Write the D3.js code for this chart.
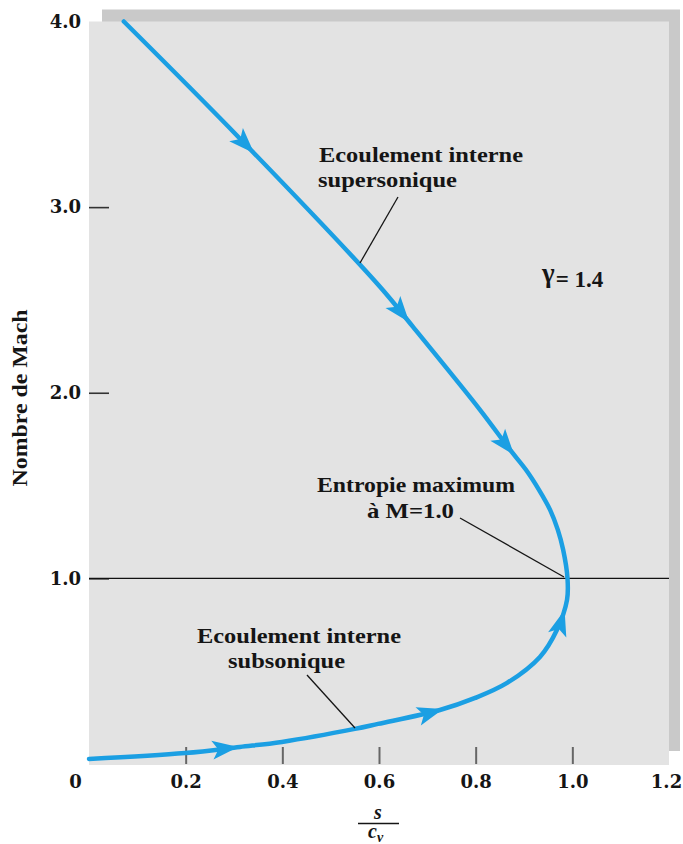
<!DOCTYPE html>
<html>
<head>
<meta charset="utf-8">
<script src="https://cdn.jsdelivr.net/npm/d3@7"></script>
<style>
  body { margin: 0; background: #fff; }
  svg { display: block; }
</style>
</head>
<body>
<svg id="chart" width="683" height="844"></svg>
<script>
// Fanno line (gamma = 1.4): entropy s/cv against Mach number
const subsonicMach    = [0.027, 0.059, 0.092, 0.119, 0.189, 0.216, 0.291, 0.356, 0.437, 0.577, 0.722, 0.884, 1.0];
const subsonicEntropy = [0.0,   0.199, 0.312, 0.399, 0.550, 0.598, 0.726, 0.799, 0.865, 0.933, 0.968, 0.989, 0.99];
const supersonicMach    = [4.0,   3.37,  2.571, 2.356, 1.908, 1.693, 1.585, 1.477, 1.369, 1.261, 1.154];
const supersonicEntropy = [0.072, 0.312, 0.602, 0.670, 0.809, 0.871, 0.904, 0.931, 0.954, 0.970, 0.981];
// flow-direction arrows (Mach number at each arrow tip)
const arrowMach = [3.29, 2.38, 1.665, 0.83, 0.296, 0.091];
const xTicks = [0, 0.2, 0.4, 0.6, 0.8, 1.0, 1.2];
const yTicks = [1.0, 2.0, 3.0, 4.0];
const sonicMach = 1.0;

const svg = d3.select('#chart');
const x = d3.scaleLinear().domain([0, 1.2]).range([89, 669]);
const y = d3.scaleLinear().domain([0, 4]).range([764, 21.5]);

const ink = '#151515';
const blue = '#1b9fe3';
const labelFont = 'DejaVu Serif';
const noteFont = 'Liberation Serif';

// drop shadow and plotting panel
svg.append('rect')
  .attr('x', x(0) + 13).attr('y', y(4) - 12)
  .attr('width', x(1.2) - x(0) - 2).attr('height', y(0) - y(4) - 1)
  .attr('fill', '#c9c9c9');
svg.append('rect')
  .attr('x', x(0)).attr('y', y(4))
  .attr('width', x(1.2) - x(0)).attr('height', y(0) - y(4) + 1)
  .attr('fill', '#e3e3e3');

// x axis: ticks point up into the panel
const gx = svg.append('g')
  .attr('transform', `translate(0,${y(0)})`)
  .call(d3.axisBottom(x).tickValues(xTicks).tickSize(-17).tickPadding(11)
    .tickFormat(d => d === 0 ? '0' : d3.format('.1f')(d)));
gx.select('.domain').remove();
gx.attr('font-family', labelFont).attr('font-size', 18).attr('font-weight', 'bold');
gx.selectAll('.tick line').attr('stroke', '#666').attr('stroke-width', 2);
gx.selectAll('.tick').filter(d => d === 0 || d === 1.2).select('line').remove();
gx.selectAll('.tick text').attr('fill', ink);
gx.selectAll('.tick').filter(d => d === 0).select('text').attr('dx', -14);
gx.selectAll('.tick').filter(d => d === 1.2).select('text').attr('dx', -3);

// y axis: ticks point right into the panel
const gy = svg.append('g')
  .attr('transform', `translate(${x(0)},0)`)
  .call(d3.axisLeft(y).tickValues(yTicks).tickSize(-20).tickPadding(8)
    .tickFormat(d3.format('.1f')));
gy.select('.domain').remove();
gy.attr('font-family', labelFont).attr('font-size', 18).attr('font-weight', 'bold');
gy.selectAll('.tick line').attr('stroke', '#333').attr('stroke-width', 1.6);
gy.selectAll('.tick').filter(d => d === 4).select('line').remove();
gy.selectAll('.tick text').attr('fill', ink);

// sonic line M = 1
svg.append('line')
  .attr('x1', x(0)).attr('x2', x(1.2))
  .attr('y1', y(sonicMach)).attr('y2', y(sonicMach))
  .attr('stroke', '#111').attr('stroke-width', 1.2);

// Fanno curve, ordered by Mach number
const pts = subsonicMach.map((m, i) => ({ m, s: subsonicEntropy[i] }))
  .concat(supersonicMach.map((m, i) => ({ m, s: supersonicEntropy[i] })))
  .sort((a, b) => a.m - b.m);

const line = d3.line().x(d => x(d.s)).y(d => y(d.m)).curve(d3.curveCatmullRom.alpha(0.5));
const curve = svg.append('path')
  .datum(pts)
  .attr('d', line)
  .attr('fill', 'none')
  .attr('stroke', blue)
  .attr('stroke-width', 4.5)
  .attr('stroke-linecap', 'round');

// arrows toward the sonic point
const node = curve.node();
const total = node.getTotalLength();
function lengthAtMach(m) {
  const target = y(m);
  let lo = 0, hi = total;
  for (let k = 0; k < 40; k++) {
    const mid = (lo + hi) / 2;
    if (node.getPointAtLength(mid).y > target) lo = mid; else hi = mid;
  }
  return (lo + hi) / 2;
}
arrowMach.forEach(m => {
  const len = lengthAtMach(m);
  const p = node.getPointAtLength(len);
  const a = node.getPointAtLength(Math.max(0, len - 1));
  const b = node.getPointAtLength(Math.min(total, len + 1));
  let ang = Math.atan2(b.y - a.y, b.x - a.x) * 180 / Math.PI;
  if (m > sonicMach) ang += 180;
  svg.append('path')
    .attr('d', 'M0,0 L-26,-9.5 L-20,0 L-26,9.5 Z')
    .attr('transform', `translate(${p.x},${p.y}) rotate(${ang})`)
    .attr('fill', blue);
});

// annotations
function note(txt, xPos, yPos, len, size) {
  svg.append('text')
    .attr('x', xPos).attr('y', yPos)
    .attr('textLength', len).attr('lengthAdjust', 'spacingAndGlyphs')
    .attr('font-family', noteFont).attr('font-weight', 'bold')
    .attr('font-size', size || 21).attr('fill', ink)
    .text(txt);
}
function leader(x1, y1, x2, y2) {
  svg.append('line')
    .attr('x1', x1).attr('y1', y1).attr('x2', x2).attr('y2', y2)
    .attr('stroke', ink).attr('stroke-width', 1.3);
}

note('Ecoulement interne', 319, 162, 204);
note('supersonique', 318, 187, 139);
leader(398, 197, 360, 263);

svg.append('text')
  .attr('x', 542).attr('y', 287)
  .attr('font-family', noteFont).attr('font-weight', 'bold')
  .attr('font-size', 23).attr('fill', ink)
  .call(t => {
    t.append('tspan').attr('font-size', 27).attr('dy', -5).text('γ');
    t.append('tspan').attr('dy', 5).attr('dx', 1).text('= 1.4');
  });

note('Entropie maximum', 317, 492, 198);
note('à M=1.0', 367, 518, 87);
leader(460, 518, 564, 577);

note('Ecoulement interne', 197, 643, 204);
note('subsonique', 228, 668, 117);
leader(307, 675, 355, 728);

// axis titles
svg.append('text')
  .attr('transform', 'translate(27,398) rotate(-90)')
  .attr('text-anchor', 'middle')
  .attr('textLength', 177).attr('lengthAdjust', 'spacingAndGlyphs')
  .attr('font-family', noteFont).attr('font-weight', 'bold')
  .attr('font-size', 20).attr('fill', ink)
  .text('Nombre de Mach');

svg.append('text')
  .attr('x', 378).attr('y', 819)
  .attr('text-anchor', 'middle')
  .attr('font-family', noteFont).attr('font-style', 'italic').attr('font-weight', 'bold')
  .attr('font-size', 20).attr('fill', ink)
  .text('s');
svg.append('line')
  .attr('x1', 358).attr('x2', 399).attr('y1', 823.5).attr('y2', 823.5)
  .attr('stroke', ink).attr('stroke-width', 1.5);
svg.append('text')
  .attr('x', 368).attr('y', 838)
  .attr('font-family', noteFont).attr('font-style', 'italic').attr('font-weight', 'bold')
  .attr('font-size', 20).attr('fill', ink)
  .call(t => {
    t.append('tspan').text('c');
    t.append('tspan').attr('font-size', 14).attr('dy', 4).text('v');
  });
</script>
</body>
</html>
